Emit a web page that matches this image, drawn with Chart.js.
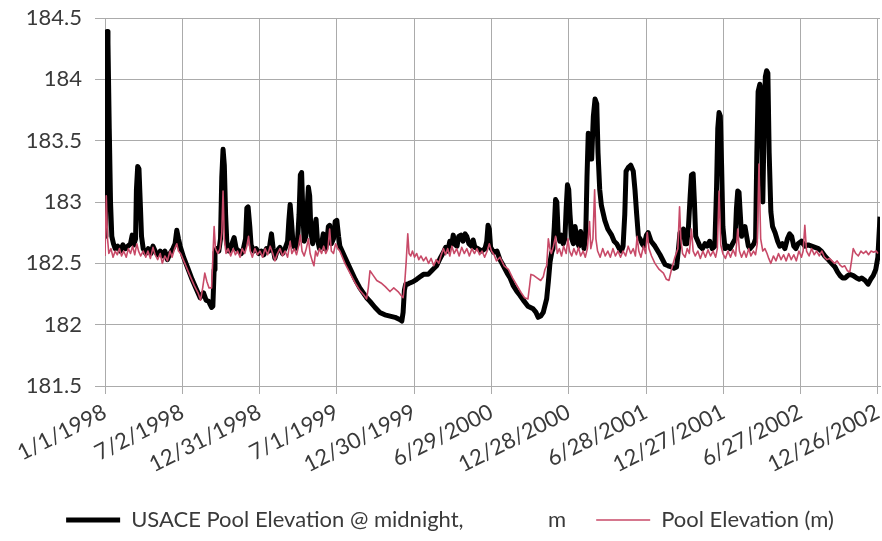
<!DOCTYPE html>
<html>
<head>
<meta charset="utf-8">
<script src="https://cdn.jsdelivr.net/npm/chart.js@4/dist/chart.umd.min.js"></script>
<style>
  html, body { margin: 0; padding: 0; background: #fff; }
  #wrap { width: 882px; height: 541px; position: relative; }
</style>
</head>
<body>
<div id="wrap"><canvas id="myChart"></canvas></div>
<script>
// days counted from 1/1/1998
const tickDays = [0, 182, 364, 546, 728, 910, 1092, 1274, 1456, 1638, 1820];
const tickLabels = ['1/1/1998', '7/2/1998', '12/31/1998', '7/1/1999', '12/30/1999', '6/29/2000',
  '12/28/2000', '6/28/2001', '12/27/2001', '6/27/2002', '12/26/2002'];

// USACE pool elevation @ midnight, m
const usaceDays = [
  0, 2, 4, 5, 7, 10, 13, 16, 20, 24,
  30, 36, 42, 48, 54, 60, 64, 68, 72, 74,
  77, 80, 83, 86, 90, 96, 102, 108, 113, 118,
  124, 130, 136, 141, 147, 153, 160, 165, 169, 173,
  177, 185, 195, 205, 215, 224, 232, 238, 244, 251,
  254, 257, 259, 263, 268, 272, 275, 278, 281, 284,
  287, 292, 298, 304, 309, 315, 321, 326, 331, 334,
  337, 341, 344, 350, 356, 362, 368, 374, 380, 386,
  392, 396, 400, 405, 412, 418, 424, 430, 433, 436,
  439, 443, 448, 453, 457, 460, 463, 466, 469, 473,
  476, 479, 482, 485, 489, 494, 497, 500, 505, 510,
  514, 518, 522, 526, 529, 533, 538, 542, 546, 550,
  553, 565, 577, 589, 600, 616, 624, 636, 647, 659,
  671, 683, 695, 699, 702, 705, 708, 713, 718, 725,
  734, 742, 750, 761, 772, 781, 789, 797, 802, 807,
  812, 817, 820, 825, 829, 833, 838, 843, 848, 852,
  857, 863, 867, 871, 878, 887, 895, 899, 902, 905,
  908, 915, 923, 930, 938, 947, 954, 961, 970, 977,
  985, 996, 1008, 1015, 1020, 1026, 1032, 1040, 1044, 1048,
  1052, 1055, 1058, 1061, 1064, 1067, 1071, 1075, 1079, 1083,
  1086, 1089, 1092, 1095, 1099, 1103, 1107, 1110, 1113, 1116,
  1120, 1124, 1128, 1132, 1135, 1138, 1142, 1146, 1150, 1154,
  1158, 1161, 1165, 1169, 1177, 1184, 1193, 1199, 1205, 1211,
  1216, 1220, 1224, 1227, 1232, 1238, 1244, 1248, 1252, 1256,
  1260, 1265, 1269, 1275, 1279, 1286, 1295, 1307, 1319, 1326,
  1334, 1340, 1346, 1350, 1354, 1358, 1362, 1366, 1370, 1374,
  1378, 1381, 1385, 1388, 1391, 1396, 1401, 1407, 1413, 1418,
  1424, 1430, 1436, 1440, 1443, 1446, 1449, 1452, 1455, 1460,
  1466, 1472, 1478, 1484, 1487, 1490, 1493, 1496, 1499, 1503,
  1507, 1511, 1515, 1519, 1524, 1528, 1532, 1535, 1538, 1542,
  1545, 1549, 1552, 1555, 1558, 1561, 1564, 1568, 1572, 1578,
  1584, 1589, 1595, 1601, 1607, 1612, 1617, 1622, 1627, 1632,
  1640, 1648, 1656, 1664, 1672, 1680, 1687, 1695, 1703, 1711,
  1719, 1725, 1731, 1737, 1743, 1749, 1754, 1762, 1770, 1776,
  1782, 1790, 1797, 1803, 1809, 1815, 1820, 1825
];
const usaceElev = [
  182.72, 183.2, 184.2, 184.39, 184.3, 183.6, 183.0, 182.72, 182.66, 182.62,
  182.64, 182.6, 182.65, 182.62, 182.64, 182.66, 182.73, 182.65, 182.7, 183.1,
  183.29, 183.27, 183.0, 182.72, 182.62, 182.58, 182.62, 182.58, 182.64, 182.6,
  182.57, 182.6, 182.56, 182.6, 182.53, 182.58, 182.62, 182.66, 182.77, 182.7,
  182.64, 182.55, 182.46, 182.37, 182.29, 182.22, 182.26, 182.2, 182.19, 182.14,
  182.15, 182.45, 182.59, 182.62, 182.6, 182.7, 183.2, 183.43, 183.3, 182.9,
  182.66, 182.6, 182.65, 182.71, 182.62, 182.6, 182.58, 182.62, 182.7, 182.95,
  182.96, 182.8, 182.65, 182.6, 182.62, 182.58, 182.6, 182.57, 182.62, 182.6,
  182.74, 182.62, 182.54, 182.6, 182.63, 182.58, 182.62, 182.68, 182.85, 182.98,
  182.85, 182.65, 182.62, 182.66, 182.9, 183.22, 183.24, 182.9, 182.68, 182.72,
  182.95, 183.12, 183.05, 182.75, 182.66, 182.8, 182.86, 182.7, 182.62, 182.66,
  182.74, 182.62, 182.66, 182.8, 182.81, 182.66, 182.7, 182.84, 182.85, 182.72,
  182.64, 182.55, 182.46, 182.37, 182.3, 182.22, 182.19, 182.14, 182.1, 182.08,
  182.07, 182.06, 182.04, 182.03, 182.1, 182.28, 182.33, 182.33, 182.34, 182.35,
  182.37, 182.39, 182.41, 182.41, 182.45, 182.48, 182.54, 182.59, 182.63, 182.6,
  182.68, 182.66, 182.73, 182.65, 182.64, 182.72, 182.73, 182.68, 182.74, 182.72,
  182.66, 182.64, 182.69, 182.63, 182.62, 182.6, 182.62, 182.68, 182.81, 182.78,
  182.63, 182.59, 182.6, 182.53, 182.48, 182.42, 182.38, 182.32, 182.27, 182.24,
  182.2, 182.15, 182.13, 182.1, 182.06, 182.07, 182.1, 182.21, 182.35, 182.51,
  182.59, 182.62, 182.8, 183.02, 183.0, 182.75, 182.68, 182.73, 182.66, 182.7,
  182.95, 183.14, 183.1, 182.9, 182.7, 182.66, 182.8, 182.72, 182.67, 182.64,
  182.76, 182.7, 182.62, 182.72, 183.2, 183.56, 183.5, 183.35, 183.7, 183.84,
  183.8, 183.4, 183.1, 182.97, 182.85, 182.78, 182.73, 182.68, 182.66, 182.62,
  182.6, 182.64, 182.9, 183.25, 183.28, 183.3, 183.25, 183.1, 182.9, 182.72,
  182.7, 182.66, 182.64, 182.73, 182.75, 182.68, 182.64, 182.57, 182.49, 182.48,
  182.47, 182.46, 182.47, 182.6, 182.75, 182.72, 182.78, 182.66, 182.66, 182.8,
  183.05, 183.22, 183.23, 183.0, 182.72, 182.68, 182.64, 182.62, 182.66, 182.64,
  182.68, 182.62, 182.64, 183.1, 183.6, 183.73, 183.7, 183.3, 182.8, 182.62,
  182.64, 182.62, 182.66, 182.7, 182.95, 183.09, 183.08, 182.9, 182.72, 182.78,
  182.8, 182.72, 182.64, 182.62, 182.64, 182.66, 182.7, 183.4, 183.9, 183.96,
  183.9, 183.0, 183.6, 184.02, 184.07, 184.05, 183.4, 182.92, 182.8, 182.75,
  182.68, 182.64, 182.66, 182.62, 182.7, 182.74, 182.72, 182.64, 182.62, 182.66,
  182.68, 182.64, 182.65, 182.64, 182.63, 182.62, 182.6, 182.56, 182.53, 182.5,
  182.47, 182.43, 182.4, 182.38, 182.38, 182.4, 182.41, 182.4, 182.38, 182.37,
  182.38, 182.36, 182.33, 182.37, 182.4, 182.45, 182.55, 182.88
];

// Pool elevation (m)
const poolDays = [
  0, 3, 6, 9, 14, 19, 24, 29, 34, 39,
  44, 50, 55, 60, 65, 70, 75, 79, 84, 90,
  96, 101, 107, 113, 118, 124, 130, 135, 141, 147,
  153, 158, 164, 169, 173, 178, 188, 200, 210, 219,
  225, 230, 235, 240, 245, 251, 254, 257, 260, 266,
  271, 275, 278, 281, 285, 290, 296, 302, 307, 312,
  318, 323, 329, 334, 338, 342, 347, 353, 359, 365,
  371, 377, 383, 389, 395, 400, 406, 412, 418, 424,
  430, 436, 440, 446, 451, 456, 460, 464, 469, 474,
  479, 483, 488, 492, 496, 500, 505, 510, 515, 520,
  525, 529, 533, 538, 543, 548, 553, 565, 577, 589,
  600, 610, 616, 620, 624, 632, 640, 650, 660, 671,
  680, 690, 697, 702, 706, 709, 713, 716, 720, 724,
  729, 734, 739, 744, 750, 756, 762, 768, 774, 780,
  786, 791, 797, 802, 807, 812, 817, 822, 828, 834,
  840, 846, 852, 858, 864, 870, 876, 882, 888, 894,
  900, 905, 910, 916, 922, 930, 940, 950, 960, 970,
  980, 988, 996, 1000, 1003, 1010, 1018, 1026, 1032, 1036,
  1040, 1044, 1047, 1051, 1056, 1061, 1065, 1070, 1075, 1080,
  1086, 1090, 1094, 1099, 1104, 1110, 1115, 1120, 1126, 1131,
  1136, 1141, 1144, 1149, 1153, 1156, 1160, 1166, 1172, 1178,
  1184, 1190, 1196, 1202, 1208, 1214, 1220, 1226, 1232, 1238,
  1244, 1249, 1253, 1257, 1262, 1268, 1273, 1277, 1281, 1287,
  1295, 1305, 1315, 1322, 1328, 1334, 1342, 1349, 1353, 1356,
  1360, 1366, 1371, 1376, 1381, 1385, 1390, 1396, 1402, 1408,
  1414, 1420, 1426, 1432, 1438, 1442, 1446, 1450, 1455, 1461,
  1467, 1473, 1479, 1485, 1490, 1494, 1499, 1505, 1510, 1516,
  1521, 1527, 1532, 1536, 1540, 1544, 1549, 1554, 1559, 1563,
  1568, 1574, 1580, 1586, 1592, 1598, 1604, 1610, 1616, 1622,
  1628, 1634, 1640, 1644, 1648, 1652, 1658, 1664, 1670, 1676,
  1682, 1688, 1694, 1700, 1706, 1712, 1718, 1724, 1730, 1736,
  1742, 1748, 1754, 1758, 1762, 1768, 1774, 1780, 1786, 1792,
  1798, 1804, 1810, 1816, 1820
];
const poolElev = [
  182.56, 183.05, 182.7, 182.58, 182.62, 182.55, 182.6, 182.57, 182.62, 182.56,
  182.6, 182.55, 182.62, 182.58, 182.64, 182.57, 182.66, 182.6, 182.56, 182.6,
  182.55, 182.6, 182.54, 182.63, 182.57, 182.53, 182.58, 182.5, 182.56, 182.52,
  182.6, 182.55, 182.62, 182.66, 182.6, 182.58, 182.5, 182.4, 182.32, 182.26,
  182.2, 182.3, 182.42, 182.35, 182.3, 182.3, 182.55, 182.8, 182.62, 182.58,
  182.62, 182.75, 183.09, 182.7, 182.58, 182.62, 182.56, 182.62, 182.57, 182.6,
  182.55, 182.62, 182.58, 182.64, 182.72, 182.6, 182.55, 182.62, 182.57, 182.6,
  182.55, 182.62, 182.57, 182.64, 182.58, 182.52, 182.58, 182.62, 182.56, 182.6,
  182.55, 182.68, 182.58, 182.62, 182.57, 182.64, 182.73, 182.6, 182.56, 182.62,
  182.7, 182.58, 182.52, 182.48, 182.6, 182.56, 182.62, 182.58, 182.64, 182.58,
  182.62, 182.78, 182.6, 182.58, 182.66, 182.62, 182.6, 182.5, 182.42, 182.34,
  182.28, 182.24, 182.21, 182.3, 182.44, 182.4, 182.36, 182.34, 182.31, 182.27,
  182.3, 182.27, 182.24, 182.22, 182.35, 182.5, 182.74, 182.58, 182.56, 182.6,
  182.55, 182.58, 182.53, 182.56, 182.52, 182.55, 182.5, 182.54, 182.48, 182.53,
  182.5, 182.56, 182.62, 182.57, 182.62, 182.56, 182.64, 182.58, 182.62, 182.56,
  182.63, 182.58, 182.62, 182.56, 182.62, 182.58, 182.62, 182.57, 182.6, 182.55,
  182.6, 182.66, 182.6, 182.57, 182.52, 182.55, 182.48, 182.45, 182.38, 182.32,
  182.26, 182.22, 182.21, 182.32, 182.41, 182.4, 182.38, 182.36, 182.39, 182.45,
  182.48, 182.7, 182.63, 182.58, 182.64, 182.72, 182.58, 182.62, 182.56, 182.64,
  182.58, 182.7, 182.6, 182.56, 182.62, 182.57, 182.63, 182.56, 182.6, 182.55,
  182.62, 182.84, 182.62, 182.7, 183.1, 182.7, 182.6, 182.55, 182.62, 182.56,
  182.6, 182.55, 182.62, 182.56, 182.6, 182.55, 182.6, 182.56, 182.64, 182.58,
  182.62, 182.56, 182.72, 182.6, 182.55, 182.64, 182.58, 182.75, 182.62, 182.56,
  182.5, 182.45, 182.42, 182.37, 182.36, 182.45, 182.55, 182.62, 182.96, 182.7,
  182.58, 182.55, 182.62, 182.58, 182.78, 182.6, 182.56, 182.6, 182.54, 182.6,
  182.55, 182.61, 182.56, 182.6, 182.55, 182.62, 183.09, 182.65, 182.58, 182.54,
  182.6, 182.55, 182.61, 182.56, 182.78, 182.6, 182.55, 182.6, 182.55, 182.62,
  182.56, 182.6, 182.57, 182.66, 183.31, 182.7, 182.6, 182.62, 182.58, 182.54,
  182.5, 182.56, 182.52, 182.58, 182.53, 182.57, 182.52, 182.58, 182.53, 182.57,
  182.52, 182.6, 182.55, 182.6, 182.81, 182.6, 182.56, 182.62, 182.57, 182.6,
  182.56, 182.6, 182.55, 182.53, 182.54, 182.52, 182.5, 182.52, 182.49, 182.47,
  182.48, 182.44, 182.43, 182.52, 182.62, 182.58, 182.56, 182.6, 182.58, 182.6,
  182.57, 182.6, 182.59, 182.6, 182.58
];

const toPoints = (days, vals) => days.map((d, i) => ({ x: d, y: vals[i] }));

const textColor = '#3a3a3a';
const gridColor = '#ababab';
const font = { family: 'Lato', size: 22 };

const ctx = document.getElementById('myChart');
const myChart = new Chart(ctx, {
  type: 'line',
  data: {
    datasets: [
      {
        label: 'USACE Pool Elevation @ midnight,               m',
        data: toPoints(usaceDays, usaceElev),
        borderColor: '#000000',
        backgroundColor: '#000000',
        borderWidth: 5,
        pointRadius: 0,
        pointStyle: 'line',
        borderJoinStyle: 'round',
        order: 2
      },
      {
        label: 'Pool Elevation (m)',
        data: toPoints(poolDays, poolElev),
        borderColor: '#c84a68',
        backgroundColor: '#c84a68',
        borderWidth: 1.6,
        pointRadius: 0,
        pointStyle: 'line',
        borderJoinStyle: 'round',
        order: 1
      }
    ]
  },
  options: {
    responsive: true,
    maintainAspectRatio: false,
    animation: false,
    // left padding + y axis width puts the plot edge at x=105
    layout: { padding: { left: 20, right: 2, top: 18, bottom: 0 } },
    scales: {
      x: {
        type: 'linear',
        min: 0,
        max: 1825,
        afterBuildTicks: scale => { scale.ticks = tickDays.map(v => ({ value: v })); },
        afterFit: scale => {
          scale.height = 93;
          scale.paddingLeft = 0;
          scale.paddingRight = 0;
        },
        grid: { color: gridColor, tickLength: 8 },
        border: { color: gridColor },
        ticks: {
          autoSkip: false,
          maxRotation: 27,
          minRotation: 27,
          padding: 5,
          color: textColor,
          font: font,
          callback: (v, i) => tickLabels[i]
        }
      },
      y: {
        min: 181.5,
        max: 184.5,
        afterFit: scale => {
          scale.width = 85;
          scale.paddingTop = 0;
          scale.paddingBottom = 0;
        },
        grid: { color: gridColor, tickLength: 10 },
        border: { color: gridColor },
        ticks: {
          stepSize: 0.5,
          padding: 13,
          color: textColor,
          font: font,
          callback: v => String(v)
        }
      }
    },
    plugins: {
      tooltip: { enabled: false },
      legend: {
        position: 'bottom',
        labels: {
          usePointStyle: true,
          pointStyleWidth: 54,
          padding: 30,
          color: textColor,
          font: font,
          sort: (a, b) => a.datasetIndex - b.datasetIndex
        }
      }
    }
  }
});
</script>
</body>
</html>
